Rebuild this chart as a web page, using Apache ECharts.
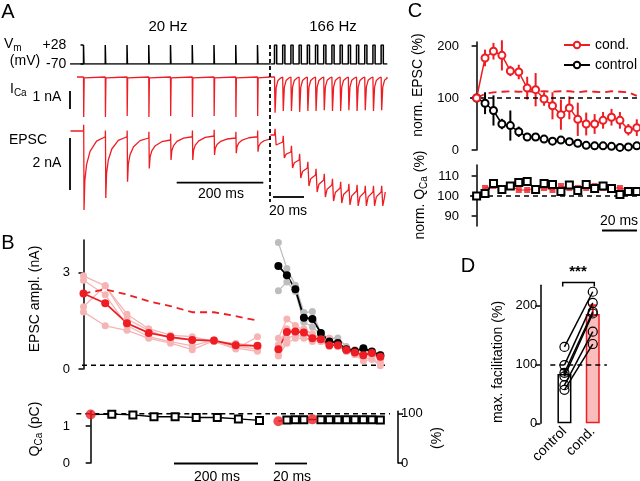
<!DOCTYPE html>
<html>
<head>
<meta charset="utf-8">
<script src="https://cdn.jsdelivr.net/npm/echarts@6.0.0/dist/echarts.min.js"></script>
<style>
html, body { margin: 0; background: #fff; }
#main { width: 640px; height: 481px; }
</style>
</head>
<body>
<div id="main"></div>
<script>
var RED = '#ee1d23';
var PINK = '#f5b5b5';
var GREY = '#bdbdbd';
var FONT = 'Liberation Sans';

// ---- panel A, example traces (ms, mV, nA) ----
var aPulse20 = [0, 50, 100, 150, 200, 250, 300, 350, 400];
var aPulse166 = [0, 6, 12, 18, 24, 30, 36, 42, 48, 54, 60, 66, 72, 78];
var aIca20 = [-2.35, -2.35, -2.3, -2.35, -2.3, -2.35, -2.3, -2.35, -2.3];
var aIca166 = [-2.1, -2.0, -2.0, -2.05, -2.0, -2.0, -1.95, -2.0, -2.0, -1.95, -2.0, -1.95, -2.0, -1.95];
// tail of a 166 Hz Ca current: ms after pulse / fraction of peak left
var aIcaTailT = [1.2, 2.5, 4.5];
var aIcaTailF = [0.3, 0.1, 0.03];
var aEpsc20Peak = [-3.16, -2.68, -2.03, -1.5, -1.16, -1.16, -0.96, -0.89, -0.83];
var aEpsc20Rest = [0, -0.23, -0.23, -0.28, -0.36, -0.23, -0.2, -0.28, -0.23, -0.28];
var aEpsc166Top = [-0.16, -0.44, -0.84, -1.16, -1.48, -1.76, -1.96, -2.16, -2.28, -2.36, -2.4, -2.44, -2.44, -2.44, -2.44];
var aEpsc166Peak = [-0.56, -1.08, -1.48, -1.88, -2.2, -2.44, -2.64, -2.8, -2.88, -2.96, -3.0, -3.0, -3.0, -3.0];
// EPSC recovery
var aRecT = [3, 7, 15, 30];
var aRecF = [0.6, 0.38, 0.2, 0.06];
var aRec166T = [2.5];
var aRec166F = [0.35];

// ---- panel B ----
var bT20 = [0, 50, 100, 150, 200, 250, 300, 350, 400];
var bT166 = [0, 6, 12, 18, 24, 30, 36, 42, 48, 54, 60, 66, 72];
var bMean20 = [2.34, 2.04, 1.42, 1.12, 0.99, 0.90, 0.88, 0.74, 0.72];
var bModel20 = [2.34, 2.47, 2.31, 2.10, 1.95, 1.76, 1.76, 1.64, 1.50];
var bCell20a = [2.89, 2.58, 1.55, 1.20, 0.95, 0.90, 0.85, 0.62, 1.00];
var bCell20b = [2.75, 2.30, 1.35, 1.00, 0.85, 0.72, 0.90, 0.70, 0.62];
var bCell20c = [1.93, 2.58, 1.70, 1.25, 1.05, 1.00, 0.85, 0.80, 0.70];
var bCell20d = [1.77, 1.34, 1.20, 0.95, 0.80, 0.60, 0.88, 0.65, 0.55];
var bMean166 = [0.61, 1.15, 1.16, 1.13, 0.95, 0.92, 0.74, 0.74, 0.59, 0.51, 0.43, 0.50, 0.38];
var bCtrl166 = [3.19, 2.91, 2.47, 1.59, 1.55, 1.12, 0.85, 0.81, 0.61, 0.56, 0.64, 0.54, 0.43];
var bGrey166a = [3.92, 3.12, 2.60, 1.75, 1.78, 1.10, 0.95, 0.96, 0.70, 0.55, 0.60, 0.45, 0.30];
var bGrey166b = [2.43, 2.70, 2.40, 1.45, 1.31, 1.05, 0.80, 0.85, 0.55, 0.60, 0.55, 0.40, 0.45];
var bCell166a = [0.95, 1.55, 1.35, 1.20, 1.10, 0.90, 0.80, 0.70, 0.60, 0.45, 0.35, 0.30, 0.20];
var bCell166b = [0.45, 0.95, 1.05, 1.00, 0.85, 0.85, 0.95, 0.70, 0.55, 0.45, 0.25, 0.30, 0.10];
var bCell166c = [0.75, 1.25, 1.15, 1.25, 1.05, 1.00, 0.80, 0.75, 0.65, 0.55, 0.50, 0.45, 0.35];
var bCell166d = [0.40, 0.80, 0.95, 0.95, 0.90, 0.85, 0.70, 0.80, 0.55, 0.60, 0.45, 0.55, 0.40];
var bNoise = 0.12;
var bQ20 = [1.31, 1.32, 1.30, 1.25, 1.25, 1.23, 1.23, 1.19, 1.15];
var bQ166 = [1.13, 1.16, 1.17, 1.17, 1.18, 1.17, 1.17, 1.17, 1.17, 1.17, 1.17, 1.17, 1.16];
var bQRed20 = [0];
var bQRed166 = [0, 4];
var bQ100 = 1.33;

// ---- panel C ----
var cT = [0, 6, 12, 18, 24, 30, 36, 42, 48, 54, 60, 66, 72, 78, 84, 90, 96, 102, 108, 114];
var cCond = [100, 177, 190, 182, 152, 150, 119, 116, 98, 85, 68, 81, 59, 50, 50, 57, 63, 57, 39, 43];
var cCondErr = [0, 16, 16, 29, 10, 14, 22, 32, 13, 26, 29, 22, 32, 22, 19, 16, 16, 16, 11, 16];
var cCtrl = [100, 90, 76, 50, 47, 35, 25, 25, 21, 17, 19, 16, 13, 9, 8, 8, 7, 5, 6, 8];
var cCtrlErr = [0, 21, 29, 10, 29, 10, 6, 5, 4, 3, 4, 3, 3, 3, 3, 3, 3, 3, 3, 3];
var cCondModel = [100, 108, 111, 112, 113, 112, 113, 112, 113, 112, 113, 113, 111, 113, 112, 111, 113, 112, 111, 104];
var cQCtrl = [100, 101.3, 106.3, 103.3, 105, 106.7, 107.2, 103.3, 106.3, 105.8, 102.2, 105.5, 102.7, 105.8, 103.8, 105, 103.8, 100.8, 102.2, 102.2];
var cQCond = [100, 104, 105, 104, 105, 103, 103, 104, 104, 103, 105, 104, 104, 104, 105, 104, 104, 104, 103, 103];

// ---- panel D ----
var dCats = ['control', 'cond.'];
var dMean = [84, 186];
var dErr = [8, 15];
var dCtrl = [130, 99, 86, 80, 65, 57];
var dCond = [224, 205, 190, 187, 156, 135];

function vmTrace(pulses, t0, t1, w) {
    var d = [[t0, -70]];
    pulses.forEach(function (t) {
        d.push([t, -70], [t, 28], [t + w, 28], [t + w, -70]);
    });
    d.push([t1, -70]);
    return d;
}

function icaTrace(pulses, peaks, t0, t1, tailT, tailF) {
    var d = [[t0, 0]];
    pulses.forEach(function (t, i) {
        d.push([t, 0], [t + 0.4, peaks[i]]);
        tailT.forEach(function (dt, k) { d.push([t + dt, peaks[i] * tailF[k]]); });
    });
    d.push([t1, 0]);
    return d;
}

function epscTrace(pulses, rest, peaks, t0, t1, recT, recF) {
    var d = [[t0, rest[0]]];
    pulses.forEach(function (t, i) {
        var pre = rest[i], next = rest[i + 1], pk = peaks[i];
        d.push([t, pre], [t + 0.4, pre + 0.25], [t + 1.2, pk]);
        recT.forEach(function (dt, k) { d.push([t + dt, next + (pk - next) * recF[k]]); });
    });
    d.push([t1, rest[rest.length - 1]]);
    return d;
}

function zip(xs, ys) { return xs.map(function (x, i) { return [x, ys[i]]; }); }

// squares, leaving out the points that get a red dot
function squares(xs, ys, skip) {
    return xs.map(function (x, i) {
        return skip.indexOf(i) >= 0 ? {value: [x, ys[i]], symbol: 'none'} : [x, ys[i]];
    });
}

var grid = [], xAxis = [], yAxis = [], series = [];

function addGrid(rect, xa, ya) {
    var i = grid.length;
    grid.push(Object.assign({show: false, containLabel: false}, rect));
    xa.gridIndex = i;
    ya.gridIndex = i;
    xAxis.push(xa);
    yAxis.push(ya);
    return i;
}

function hidden(min, max) { return {type: 'value', show: false, min: min, max: max}; }

function yVis(min, max, ticks, extra) {
    return Object.assign({
        type: 'value', min: min, max: max,
        splitLine: {show: false},
        axisLine: {show: true, lineStyle: {color: '#000', width: 1.5}},
        axisTick: {show: true, length: 5, lineStyle: {color: '#000', width: 1.5}, customValues: ticks},
        axisLabel: {color: '#000', fontSize: 13, fontFamily: FONT, margin: 3, customValues: ticks}
    }, extra || {});
}

function line(i, data, color, width, extra) {
    return Object.assign({
        type: 'line', xAxisIndex: i, yAxisIndex: i, data: data,
        symbol: 'none', showSymbol: false, animation: false, silent: true,
        lineStyle: {color: color, width: width}, itemStyle: {color: color}
    }, extra || {});
}

function dots(i, data, color, width, size, extra) {
    return line(i, data, color, width, Object.assign({
        symbol: 'circle', showSymbol: true, symbolSize: size
    }, extra || {}));
}

function errBars(i, xs, ys, es, color, cap) {
    return {
        type: 'custom', xAxisIndex: i, yAxisIndex: i, silent: true, animation: false,
        data: xs.map(function (x, k) { return [x, ys[k], es[k]]; }),
        renderItem: function (params, api) {
            var a = api.coord([api.value(0), api.value(1) + api.value(2)]);
            var b = api.coord([api.value(0), api.value(1) - api.value(2)]);
            var st = {stroke: color, lineWidth: 2};
            var ch = [{type: 'line', shape: {x1: a[0], y1: a[1], x2: b[0], y2: b[1]}, style: st}];
            if (cap) {
                ch.push({type: 'line', shape: {x1: a[0] - cap, y1: a[1], x2: a[0] + cap, y2: a[1]}, style: st});
                ch.push({type: 'line', shape: {x1: b[0] - cap, y1: b[1], x2: b[0] + cap, y2: b[1]}, style: st});
            }
            return {type: 'group', children: ch};
        }
    };
}

var dash = {type: [5, 4]};

// ---- A ----
var A20 = {left: 68.3, width: 201.8}, A166 = {left: 270.4, width: 120.3};
var gVm20 = addGrid(Object.assign({top: 45, height: 19}, A20), hidden(-35, 429),
    yVis(-70, 28, [-70, 28], {
        axisLine: {show: false},
        axisTick: {show: true, length: 3, lineStyle: {color: '#000', width: 1.5}, customValues: [-70, 28]},
        axisLabel: {color: '#000', fontSize: 14, fontFamily: FONT, margin: 2, customValues: [-70, 28],
            formatter: function (v) { return v > 0 ? '+' + v : String(v); }}
    }));
var gVm166 = addGrid(Object.assign({top: 45, height: 19}, A166), hidden(-3, 85), hidden(-70, 28));
var gIca20 = addGrid(Object.assign({top: 70.2, height: 54.4}, A20), hidden(-35, 429), hidden(-2.8, 0.4));
var gIca166 = addGrid(Object.assign({top: 70.2, height: 54.4}, A166), hidden(-3, 85), hidden(-2.8, 0.4));
var gEp20 = addGrid(Object.assign({top: 123.5, height: 92.5}, A20), hidden(-35, 429), hidden(-3.4, 0.3));
var gEp166 = addGrid(Object.assign({top: 123.5, height: 92.5}, A166), hidden(-3, 85), hidden(-3.4, 0.3));

series.push(line(gVm20, vmTrace(aPulse20, -31, 429, 1), '#000', 1.5));
series.push(line(gVm166, vmTrace(aPulse166, -3, 82.5, 1.6), '#000', 1.5));
series.push(line(gIca20, icaTrace(aPulse20, aIca20, -15, 429, [1.5], [0.02]), RED, 1.3));
series.push(line(gIca166, icaTrace(aPulse166, aIca166, -3, 82, aIcaTailT, aIcaTailF), RED, 1.3));
series.push(line(gEp20, epscTrace(aPulse20, aEpsc20Rest, aEpsc20Peak, -30, 429, aRecT, aRecF), RED, 1.3));
series.push(line(gEp166, epscTrace(aPulse166, aEpsc166Top, aEpsc166Peak, -3, 81, aRec166T, aRec166F), RED, 1.3));

// ---- B ----
var gBu20 = addGrid({left: 73, width: 197, top: 240, height: 129}, hidden(-24.1, 428.8), yVis(0, 4, [0, 3]));
var gBu166 = addGrid({left: 272, width: 118, top: 240, height: 129}, hidden(-4.5, 78.8), hidden(0, 4));
var gBl20 = addGrid({left: 73, width: 197, top: 411.2, height: 51.8}, hidden(-41.9, 424.9), yVis(0, 1.4, [0, 1]));
var gBl166 = addGrid({left: 272, width: 118, top: 411.2, height: 51.8}, hidden(-4.5, 78.8), hidden(0, 1.4));

series.push(line(gBu20, [[-3.4, bNoise], [428.8, bNoise]], '#000', 1.5, {lineStyle: {color: '#000', width: 1.5, type: dash.type}}));
series.push(line(gBu166, [[-4.5, bNoise], [75.3, bNoise]], '#000', 1.5, {lineStyle: {color: '#000', width: 1.5, type: dash.type}}));
[bCell20a, bCell20b, bCell20c, bCell20d].forEach(function (c) {
    series.push(dots(gBu20, zip(bT20, c), PINK, 1.3, 7));
});
series.push(line(gBu20, zip(bT20, bModel20), RED, 1.8, {lineStyle: {color: RED, width: 1.8, type: [7, 5]}}));
series.push(dots(gBu20, zip(bT20, bMean20), RED, 1.8, 8));
[bGrey166a, bGrey166b].forEach(function (c) {
    series.push(dots(gBu166, zip(bT166, c), GREY, 1.3, 7));
});
[bCell166a, bCell166b, bCell166c, bCell166d].forEach(function (c) {
    series.push(dots(gBu166, zip(bT166, c), PINK, 1.3, 7));
});
series.push(dots(gBu166, zip(bT166, bCtrl166), '#000', 1.8, 8));
series.push(dots(gBu166, zip(bT166, bMean166), RED, 1.8, 8));

series.push(line(gBl20, [[-34, bQ100], [424.9, bQ100]], '#000', 1.5, {lineStyle: {color: '#000', width: 1.5, type: dash.type}}));
series.push(line(gBl166, [[-4.5, bQ100], [78.8, bQ100]], '#000', 1.5, {lineStyle: {color: '#000', width: 1.5, type: dash.type}}));
series.push(dots(gBl20, squares(bT20, bQ20, bQRed20), '#000', 1.3, 7, {symbol: 'emptyRect', itemStyle: {color: '#000', borderWidth: 1}}));
series.push(dots(gBl166, squares(bT166, bQ166, bQRed166), '#000', 1.3, 7, {symbol: 'emptyRect', itemStyle: {color: '#000', borderWidth: 1}}));
series.push({type: 'scatter', xAxisIndex: gBl20, yAxisIndex: gBl20, symbolSize: 10, silent: true, animation: false, z: 10,
    itemStyle: {color: RED}, data: bQRed20.map(function (k) { return [bT20[k], bQ20[k]]; })});
series.push({type: 'scatter', xAxisIndex: gBl166, yAxisIndex: gBl166, symbolSize: 10, silent: true, animation: false, z: 10,
    itemStyle: {color: RED}, data: bQRed166.map(function (k) { return [bT166[k], bQ166[k]]; })});

// ---- C ----
var gCu = addGrid({left: 462, width: 177.6, top: 42, height: 108}, hidden(-10.4, 116), yVis(0, 207.7, [0, 100, 200]));
var gCl = addGrid({left: 462, width: 177.6, top: 165, height: 61}, hidden(-10.4, 116), yVis(85, 115.5, [90, 100, 110]));

series.push(line(gCu, [[-4.7, 100], [114.2, 100]], '#000', 1.5, {lineStyle: {color: '#000', width: 1.5, type: dash.type}}));
series.push(line(gCu, zip(cT, cCondModel), RED, 1.8, {name: 'cond. model', lineStyle: {color: RED, width: 1.8, type: [8, 5]}}));
series.push(errBars(gCu, cT, cCtrl, cCtrlErr, '#000', 0));
series.push(dots(gCu, zip(cT, cCtrl), '#000', 1.5, 7, {name: 'control', symbol: 'emptyCircle', itemStyle: {color: '#000', borderWidth: 1}}));
series.push(errBars(gCu, cT, cCond, cCondErr, RED, 0));
series.push(dots(gCu, zip(cT, cCond), RED, 1.5, 7, {name: 'cond.', symbol: 'emptyCircle', itemStyle: {color: RED, borderWidth: 1}}));

series.push(line(gCl, [[-4.7, 100], [114.2, 100]], '#000', 1.5, {lineStyle: {color: '#000', width: 1.5, type: dash.type}}));
series.push(dots(gCl, zip(cT, cQCond), RED, 1, 6, {symbol: 'rect', itemStyle: {color: 'rgba(238,29,35,0.8)'}}));
series.push(dots(gCl, zip(cT, cQCtrl), '#000', 1.8, 7, {symbol: 'emptyRect', itemStyle: {color: '#000', borderWidth: 1}}));

// ---- D ----
var gD = addGrid({left: 550.3, width: 56.6, top: 285.3, height: 138},
    {type: 'category', data: dCats, boundaryGap: true, axisLine: {show: false}, axisTick: {show: false},
        axisLabel: {rotate: 45, color: '#000', fontSize: 14, fontFamily: FONT, margin: 6}},
    yVis(0, 235, [0, 100, 200], {offset: 10}));

series.push({
    type: 'bar', xAxisIndex: gD, yAxisIndex: gD, barWidth: 14, silent: true, animation: false,
    data: [
        {value: dMean[0], itemStyle: {color: '#fff', borderColor: '#000', borderWidth: 1.5}},
        {value: dMean[1], itemStyle: {color: '#fbbcbc', borderColor: RED, borderWidth: 1.5}}
    ],
    markLine: {silent: true, symbol: 'none', label: {show: false},
        lineStyle: {color: '#000', width: 1.5, type: dash.type}, data: [{yAxis: 100}]}
});
series.push(errBars(gD, [1], [dMean[1]], [dErr[1]], RED, 4));
series.push(errBars(gD, [0], [dMean[0]], [dErr[0]], '#000', 4));
dCtrl.forEach(function (c, k) {
    series.push(dots(gD, [[0, c], [1, dCond[k]]], '#000', 1.5, 9,
        {itemStyle: {color: 'rgba(0,0,0,0)', borderColor: '#000', borderWidth: 1.2}}));
});

// right-hand % axis of B lower
yAxis.push(yVis(0, 105.26, [0, 100], {gridIndex: gBl166, position: 'right', offset: 8}));

// ---- text and scale bars ----
var RICH = {
    m: {fontSize: 14, fontFamily: FONT, lineHeight: 18},
    s: {fontSize: 10, fontFamily: FONT, lineHeight: 6, verticalAlign: 'bottom'}
};
var ROT = Math.PI / 2;

function T(s, x, y, o) {
    o = o || {};
    return {type: 'text', x: x, y: y, rotation: o.rot || 0, silent: true, z: 50,
        style: {text: s, fontSize: o.size || 14, fontFamily: FONT, fontWeight: o.weight || 'normal', fill: '#000',
            align: o.align || 'center', verticalAlign: 'middle', lineHeight: 18, rich: RICH}};
}

function L(x1, y1, x2, y2, dsh) {
    return {type: 'line', silent: true, z: 50, shape: {x1: x1, y1: y1, x2: x2, y2: y2},
        style: {stroke: '#000', lineWidth: 1.8, lineDash: dsh || null}};
}

var elements = [
    T('A', 8, 12, {size: 20}), T('B', 8, 243, {size: 20}), T('C', 415, 11, {size: 20}), T('D', 468, 266, {size: 20}),
    T('20 Hz', 168, 27, {size: 15}), T('166 Hz', 333, 27, {size: 15}),
    T('{m|V}{s|m}', 4, 44, {align: 'left'}), T('(mV)', 25, 61),
    T('{m|I}{s|Ca}', 10, 89, {align: 'left'}), T('1 nA', 47, 97),
    T('EPSC', 28, 140), T('2 nA', 47, 163),
    T('200 ms', 221, 194), T('20 ms', 288, 211),
    L(70, 91, 70, 109), L(70, 138, 70, 190), L(176.7, 182.7, 263.3, 182.7), L(273, 197, 304, 197),
    L(270, 45, 270, 202, [4, 3]),
    T('EPSC ampl. (nA)', 35, 299, {rot: ROT}), T('{m|Q}{s|Ca}{m| (pC)}', 35, 429, {rot: ROT}),
    T('(%)', 437, 438, {rot: ROT}),
    T('200 ms', 217, 477), T('20 ms', 292, 477),
    L(174, 463.5, 258, 463.5), L(275, 463.5, 307, 463.5),
    T('norm. EPSC (%)', 418, 85, {rot: ROT}), T('norm. {m|Q}{s|Ca} (%)', 420, 195, {rot: ROT}),
    T('20 ms', 619, 221), L(602, 230.5, 637, 230.5),
    T('***', 578, 272, {size: 15, weight: 'bold'}),
    {type: 'polyline', silent: true, z: 50, shape: {points: [[562.7, 286.5], [562.7, 282.5], [594.3, 282.5], [594.3, 286.5]]},
        style: {stroke: '#000', lineWidth: 1.5, fill: null}},
    T('max. facilitation (%)', 498, 362, {rot: ROT})
];

var myChart = echarts.init(document.getElementById('main'), null, {renderer: 'canvas'});
myChart.setOption({
    backgroundColor: '#fff',
    animation: false,
    textStyle: {fontFamily: FONT, color: '#000'},
    grid: grid,
    xAxis: xAxis,
    yAxis: yAxis,
    legend: {
        data: ['cond.', 'control'], orient: 'vertical', left: 563, top: 38, padding: 0,
        itemWidth: 26, itemHeight: 8, itemGap: 6, selectedMode: false,
        textStyle: {fontSize: 14, fontFamily: FONT, color: '#000'}
    },
    series: series,
    graphic: {elements: elements}
});
</script>
</body>
</html>
